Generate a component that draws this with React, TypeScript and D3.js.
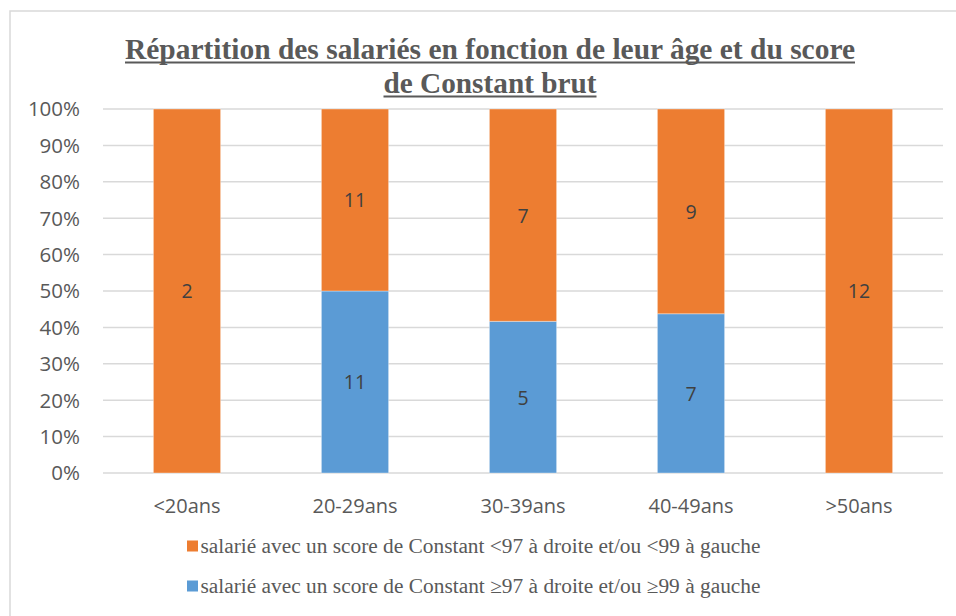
import React from "react";
import * as d3 from "d3";

const categories = ["<20ans", "20-29ans", "30-39ans", "40-49ans", ">50ans"];
const seriesNames = [
  "salarié avec un score de Constant ≥97 à droite et/ou ≥99 à gauche",
  "salarié avec un score de Constant <97 à droite et/ou <99 à gauche",
];
const blueCounts = [0, 11, 5, 7, 0];
const orangeCounts = [2, 11, 7, 9, 12];
const yTicks = [0, 0.1, 0.2, 0.3, 0.4, 0.5, 0.6, 0.7, 0.8, 0.9, 1];
const titleLines = [
  "Répartition des salariés en fonction de leur âge et du score",
  "de Constant brut",
];

const BLUE = "#5B9BD5";
const ORANGE = "#ED7D31";
const SANS = "'Open Sans', 'DejaVu Sans', sans-serif";
const SERIF = "'Liberation Serif', 'DejaVu Serif', serif";

export default function App() {
  const W = 956, H = 616;
  const plot = { left: 103, right: 943, top: 109, bottom: 473 };
  const x = d3.scaleBand<string>().domain(categories).range([plot.left, plot.right]).paddingInner(0.6).paddingOuter(0.3);
  const y = d3.scaleLinear().domain([0, 1]).range([plot.bottom, plot.top]);
  const fmt = d3.format(".0%");

  const rows = categories.map((c, i) => {
    const total = blueCounts[i] + orangeCounts[i];
    return { c, blue: blueCounts[i], orange: orangeCounts[i], total };
  });
  const stack = d3.stack<any>().keys(["blue", "orange"]).value((d: any, k: string) => d[k] / d.total);
  const layers = stack(rows as any);
  const colors = [BLUE, ORANGE];

  return (
    <svg width={W} height={H} style={{ position: "absolute", left: 0, top: 0, background: "#fff" }}>
      <rect x={10} y={11} width={W + 20} height={H + 20} fill="#fff" stroke="#D9D9D9" strokeWidth={1.5} />
      {/* title */}
      {titleLines.map((t, i) => {
        const widths = [730, 213];
        const cx = 490;
        const by = [59, 93][i];
        return (
          <g key={i}>
            <text x={cx} y={by} textAnchor="middle" fontFamily={SERIF} fontWeight="bold" fontSize={29} fill="#595959"
              textLength={widths[i]} lengthAdjust="spacingAndGlyphs">{t}</text>
            <line x1={cx - widths[i] / 2} x2={cx + widths[i] / 2} y1={by + 3.5} y2={by + 3.5} stroke="#595959" strokeWidth={2} />
          </g>
        );
      })}
      {/* gridlines */}
      {yTicks.map((t) => (
        <g key={t}>
          <line x1={plot.left} x2={plot.right} y1={y(t)} y2={y(t)} stroke="#D9D9D9" strokeWidth={1.5} />
          <text x={80} y={y(t)} dy="0.36em" textAnchor="end" fontFamily={SANS} fontSize={20.5} fill="#595959">{fmt(t)}</text>
        </g>
      ))}
      {/* bars */}
      {layers.map((layer, li) => (
        <g key={li}>
          {layer.map((d: any, i: number) => {
            const h = y(d[0]) - y(d[1]);
            if (h <= 0) return null;
            return (
              <rect key={i} x={x(categories[i])} y={y(d[1])} width={x.bandwidth()} height={h}
                fill={colors[li]} stroke="#fff" strokeOpacity={0.35} strokeWidth={1} />
            );
          })}
        </g>
      ))}
      {/* data labels */}
      {layers.map((layer, li) => (
        <g key={"l" + li}>
          {layer.map((d: any, i: number) => {
            const v = li === 0 ? blueCounts[i] : orangeCounts[i];
            if (!v) return null;
            const cy = y((d[0] + d[1]) / 2);
            return (
              <text key={i} x={x(categories[i])! + x.bandwidth() / 2} y={cy} dy="0.38em" textAnchor="middle"
                fontFamily={SANS} fontSize={19.5} fill="#404040">{v}</text>
            );
          })}
        </g>
      ))}
      {/* category labels */}
      {categories.map((c) => (
        <text key={c} x={x(c)! + x.bandwidth() / 2} y={513} textAnchor="middle" fontFamily={SANS} fontSize={20} fill="#595959">{c}</text>
      ))}
      {/* legend */}
      {[1, 0].map((si, k) => {
        const yy = [546, 586][k];
        return (
          <g key={si}>
            <rect x={187} y={yy - 5.5} width={11} height={11} fill={colors[si]} />
            <text x={200.5} y={yy} dy="0.35em" fontFamily={SERIF} fontSize={20} fill="#595959"
              textLength={560} lengthAdjust="spacingAndGlyphs">{seriesNames[si]}</text>
          </g>
        );
      })}
    </svg>
  );
}
